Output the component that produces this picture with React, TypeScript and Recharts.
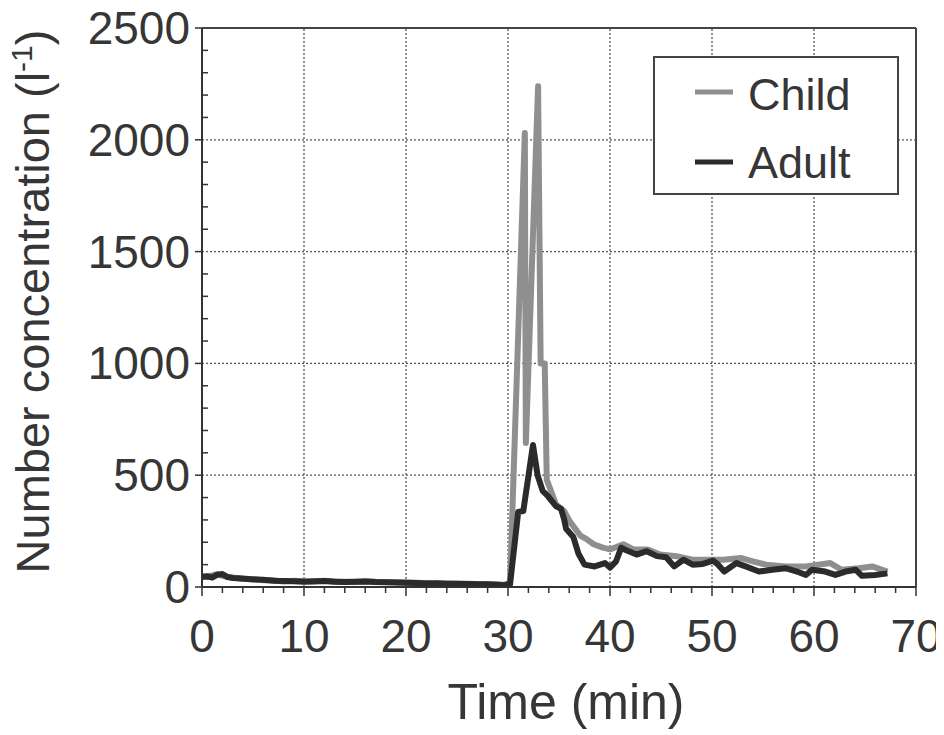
import React from "react";
import { LineChart, Line, XAxis, YAxis, ReferenceLine, Legend } from "recharts";

const adultTime = [0,0.5,1,1.5,2,2.5,3,4,5,6,7,8,9,10,11,12,13,14,15,16,17,18,19,20,21,22,23,24,25,26,27,28,29,29.6,30.2,31.0,31.5,32.45,32.9,33.4,33.9,34.7,35.2,35.5,35.7,36.4,36.9,37.5,38.5,39.5,40.0,40.6,41.1,41.6,42.6,43.6,44.6,45.5,46.3,47.2,48.1,49.1,50.1,50.6,51.2,52.4,53.3,54.6,55.9,57.2,58.5,59.2,59.8,61.1,62.1,63.1,64.1,64.7,66.0,67.2];
const adultValue = [45,48,42,55,58,44,40,38,34,32,28,27,26,24,26,27,24,22,23,25,22,21,20,19,18,16,17,15,14,13,12,12,10,8,12,336,340,635,500,430,407,362,349,304,260,224,150,100,92,107,87,115,176,164,145,160,138,133,92,122,100,103,118,100,69,107,92,69,77,84,66,54,77,69,54,69,77,50,54,61];

const childTime = [0,0.5,1,1.5,2,2.5,3,4,5,6,7,8,9,10,11,12,13,14,15,16,17,18,19,20,21,22,23,24,25,26,27,28,29,29.7,30.2,31.65,31.75,32.95,33.2,33.6,33.8,34.7,35.5,36.1,37.1,37.7,38.4,39.3,40.0,41.3,42.3,43.7,44.9,46.5,48.1,49.4,51.1,52.8,54.0,55.3,57.2,59.2,61.6,62.7,64.4,65.7,67.2];
const childValue = [50,44,52,58,50,46,43,36,36,30,30,25,28,26,24,28,25,24,22,26,23,22,21,20,19,18,16,16,15,14,13,12,11,10,20,2030,644,2240,1000,1000,480,370,340,290,230,214,191,176,168,191,168,168,145,138,122,122,122,130,115,100,92,92,107,77,84,92,69];

const seriesNames = ["Child", "Adult"];
const xTicks = [0,2,4,6,8,10,12,14,16,18,20,22,24,26,28,30,32,34,36,38,40,42,44,46,48,50,52,54,56,58,60,62,64,66,68,70];
const yTicks = [0,100,200,300,400,500,600,700,800,900,1000,1100,1200,1300,1400,1500,1600,1700,1800,1900,2000,2100,2200,2300,2400,2500];
const xGrid = [10,20,30,40,50,60];
const yGrid = [500,1000,1500,2000];

const childData = childTime.map((t, i) => ({ t, v: childValue[i] }));
const adultData = adultTime.map((t, i) => ({ t, v: adultValue[i] }));

const FONT = "'Liberation Sans', Arial, sans-serif";
const TXT = "#363636";

function XTick(props: any) {
  const { x, y, payload } = props;
  const v = payload.value;
  const major = v % 10 === 0;
  return (
    <g>
      <line x1={x} y1={y} x2={x} y2={y + (major ? 9 : 6)} stroke="#333" strokeWidth={1.5} />
      {major && (
        <text x={x} y={y + 65} textAnchor="middle" fontSize={46} fill={TXT} fontFamily={FONT}>
          {v}
        </text>
      )}
    </g>
  );
}

function YTick(props: any) {
  const { x, y, payload } = props;
  const v = payload.value;
  const major = v % 500 === 0;
  return (
    <g>
      {major ? (
        <line x1={x - 7} y1={y} x2={x} y2={y} stroke="#333" strokeWidth={1.5} />
      ) : (
        <line x1={x} y1={y} x2={x + 6} y2={y} stroke="#333" strokeWidth={1.5} />
      )}
      {major && (
        <text x={x - 12} y={y + 16} textAnchor="end" fontSize={46} fill={TXT} fontFamily={FONT}>
          {v}
        </text>
      )}
    </g>
  );
}

function YLabel(props: any) {
  const vb = props.viewBox || { x: 0, y: 28, width: 202, height: 559 };
  const cx = vb.x + 49;
  const cy = vb.y + vb.height / 2 - 6;
  return (
    <text x={cx} y={cy} transform={`rotate(-90 ${cx} ${cy})`} textAnchor="middle" fontSize={47} fill={TXT} fontFamily={FONT}>
      <tspan>Number concentration (l</tspan>
      <tspan dy={-17} fontSize={30}>-1</tspan>
      <tspan dy={17}>)</tspan>
    </text>
  );
}

function XLabel(props: any) {
  const vb = props.viewBox || { x: 202, y: 587, width: 714, height: 148 };
  const cx = vb.x + vb.width / 2 + 7;
  return (
    <text x={cx} y={vb.y + 132} textAnchor="middle" fontSize={50} fill={TXT} fontFamily={FONT}>
      Time (min)
    </text>
  );
}

function LegendBox(props: any) {
  const raw = props.payload || [];
  const payload = seriesNames
    .map((n) => raw.find((p: any) => p.value === n))
    .filter(Boolean);
  return (
    <svg width={246} height={139} style={{ display: "block" }}>
      <rect x={1} y={1} width={244} height={137} fill="#fff" stroke="#444" strokeWidth={2} />
      {payload.map((p: any, i: number) => (
        <g key={i}>
          <line x1={42} x2={80} y1={36 + i * 70} y2={36 + i * 70} stroke={p.color} strokeWidth={5} />
          <text x={95} y={54 + i * 68} fontSize={45} fill={TXT} fontFamily={FONT}>
            {p.value}
          </text>
        </g>
      ))}
    </svg>
  );
}

export default function App() {
  return (
    <div style={{ marginLeft: -8, marginTop: -8, width: 944, height: 735, background: "#fff" }}>
      <LineChart width={944} height={735} margin={{ top: 28, right: 28, bottom: 0, left: 0 }}>
        {xGrid.map((g) => (
          <ReferenceLine key={"xg" + g} x={g} stroke="#555" strokeDasharray="2 2" strokeWidth={1.3} />
        ))}
        {yGrid.map((g) => (
          <ReferenceLine key={"yg" + g} y={g} stroke="#555" strokeDasharray="2 2" strokeWidth={1.3} />
        ))}
        <ReferenceLine x={70} stroke="#444" strokeWidth={2} />
        <ReferenceLine y={2500} stroke="#444" strokeWidth={2} />
        <XAxis
          type="number"
          dataKey="t"
          domain={[0, 70]}
          ticks={xTicks}
          interval={0}
          tickSize={0}
          tickMargin={0}
          tickLine={false}
          tick={<XTick />}
          axisLine={{ stroke: "#333", strokeWidth: 2 }}
          height={148}
          allowDataOverflow
          label={{ content: <XLabel /> }}
        />
        <YAxis
          type="number"
          dataKey="v"
          domain={[0, 2500]}
          ticks={yTicks}
          interval={0}
          tickSize={0}
          tickMargin={0}
          tickLine={false}
          tick={<YTick />}
          axisLine={{ stroke: "#333", strokeWidth: 2 }}
          width={202}
          allowDataOverflow
          label={{ content: <YLabel /> }}
        />
        <Legend
          layout="vertical"
          align="center"
          verticalAlign="middle"
          content={<LegendBox />}
          wrapperStyle={{ left: 653, top: 56, width: 246, height: 139 }}
        />
        <Line
          data={childData}
          dataKey="v"
          name="Child"
          type="linear"
          stroke="#8f8f8f"
          strokeWidth={6}
          strokeLinejoin="round"
          dot={false}
          activeDot={false}
          isAnimationActive={false}
        />
        <Line
          data={adultData}
          dataKey="v"
          name="Adult"
          type="linear"
          stroke="#2b2b2b"
          strokeWidth={6}
          strokeLinejoin="round"
          dot={false}
          activeDot={false}
          isAnimationActive={false}
        />
      </LineChart>
    </div>
  );
}
